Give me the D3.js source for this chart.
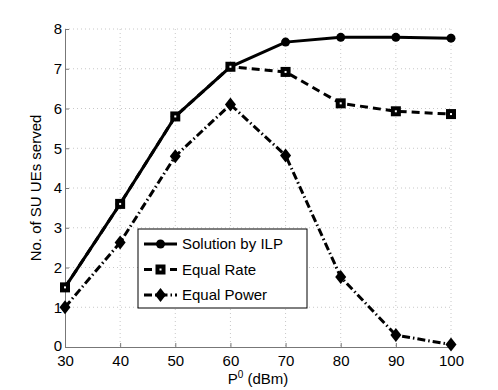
<!DOCTYPE html>
<html>
<head>
<meta charset="utf-8">
<script src="https://cdnjs.cloudflare.com/ajax/libs/d3/7.8.5/d3.min.js"></script>
<style>
  body { margin: 0; background: #fff; }
  text { font-family: "Liberation Sans", Arial, sans-serif; }
  .grid line { stroke: #c8c8c8; stroke-dasharray: 1,3; }
</style>
</head>
<body>
<div id="vis"></div>
<script>
// data
var powers = [30, 40, 50, 60, 70, 80, 90, 100];
var ilp = [1.5, 3.6, 5.8, 7.05, 7.67, 7.79, 7.79, 7.77];
var equalRate = [1.5, 3.6, 5.8, 7.05, 6.92, 6.13, 5.93, 5.86];
var equalPower = [1.0, 2.63, 4.8, 6.1, 4.82, 1.76, 0.3, 0.06];
var xTicks = [30, 40, 50, 60, 70, 80, 90, 100];
var yTicks = [0, 1, 2, 3, 4, 5, 6, 7, 8];
var seriesNames = ['Solution by ILP', 'Equal Rate', 'Equal Power'];

var width = 498, height = 390;
var margin = { top: 29, right: 47, bottom: 43, left: 65 };

var svg = d3.select('#vis').append('svg')
    .attr('width', width)
    .attr('height', height);

var w = width - margin.left - margin.right;
var h = height - margin.top - margin.bottom;

var g = svg.append('g')
    .attr('transform', 'translate(' + margin.left + ',' + margin.top + ')');

var x = d3.scaleLinear().domain([30, 100]).range([0, w]);
var y = d3.scaleLinear().domain([0, 8]).range([h, 0]);

// grid
var grid = g.append('g').attr('class', 'grid');
grid.selectAll('.gx').data(xTicks.slice(1)).enter().append('line')
    .attr('x1', function(d) { return x(d); }).attr('x2', function(d) { return x(d); })
    .attr('y1', 0).attr('y2', h);
grid.selectAll('.gy').data(yTicks.slice(1)).enter().append('line')
    .attr('x1', 0).attr('x2', w)
    .attr('y1', function(d) { return y(d); }).attr('y2', function(d) { return y(d); });

// axes
var xAxis = d3.axisBottom(x).tickValues(xTicks).tickSize(-4).tickPadding(6);
var yAxis = d3.axisLeft(y).tickValues(yTicks).tickSize(-4).tickPadding(3);

var gx = g.append('g').attr('transform', 'translate(0,' + h + ')').call(xAxis);
var gy = g.append('g').call(yAxis);
[gx, gy].forEach(function(a) {
  a.select('.domain').attr('stroke', '#777').attr('stroke-width', 1);
  a.selectAll('.tick line').attr('stroke', '#777');
  a.selectAll('.tick text').attr('font-size', 15).attr('fill', '#000')
    .style('font-family', '"Liberation Sans", Arial, sans-serif');
});
gx.selectAll('.tick text').attr('dy', '0.85em');
gy.selectAll('.tick text').filter(function(d) { return d === 0; }).attr('dy', '0.2em');

// labels
svg.append('text')
    .attr('transform', 'translate(41,' + (margin.top + h / 2) + ') rotate(-90)')
    .attr('text-anchor', 'middle')
    .attr('font-size', 15)
    .text('No. of SU UEs served');

var xl = svg.append('text')
    .attr('x', margin.left + w / 2)
    .attr('y', 384)
    .attr('text-anchor', 'middle')
    .attr('font-size', 15);
xl.append('tspan').text('P');
xl.append('tspan').attr('dy', -6).attr('font-size', 10).text('0');
xl.append('tspan').attr('dy', 6).text(' (dBm)');

var line = d3.line()
    .x(function(d, i) { return x(powers[i]); })
    .y(function(d) { return y(d); });

function drawMarker(sel, type, cx, cy) {
  if (type === 'circle') {
    sel.append('circle').attr('cx', cx).attr('cy', cy).attr('r', 4.5).attr('fill', '#000');
  } else if (type === 'square') {
    sel.append('rect').attr('x', cx - 5).attr('y', cy - 5).attr('width', 10).attr('height', 10)
      .attr('fill', '#000');
    sel.append('rect').attr('x', cx - 1).attr('y', cy - 1).attr('width', 2).attr('height', 2)
      .attr('fill', '#fff');
  } else {
    sel.append('path')
      .attr('d', 'M' + cx + ',' + (cy - 7) + 'L' + (cx + 5.5) + ',' + cy + 'L' + cx + ',' + (cy + 7) + 'L' + (cx - 5.5) + ',' + cy + 'Z')
      .attr('fill', '#000');
  }
}

var series = [
  { values: ilp, dash: null, marker: 'circle' },
  { values: equalRate, dash: '8,5', marker: 'square' },
  { values: equalPower, dash: '8,3,1.5,3', marker: 'diamond' }
];

series.forEach(function(s) {
  g.append('path')
    .datum(s.values)
    .attr('fill', 'none')
    .attr('stroke', '#000')
    .attr('stroke-width', 3)
    .attr('stroke-dasharray', s.dash)
    .attr('d', line);
  var mg = g.append('g');
  s.values.forEach(function(v, i) { drawMarker(mg, s.marker, x(powers[i]), y(v)); });
});

// legend
var lg = svg.append('g').attr('transform', 'translate(138,229)');
lg.append('rect').attr('width', 169).attr('height', 79)
  .attr('fill', '#fff').attr('stroke', '#000').attr('stroke-width', 1);
series.forEach(function(s, i) {
  var ly = 15 + i * 25.5;
  lg.append('line').attr('x1', 6).attr('x2', 39).attr('y1', ly).attr('y2', ly)
    .attr('stroke', '#000').attr('stroke-width', 3).attr('stroke-dasharray', s.dash);
  drawMarker(lg, s.marker, 22.5, ly);
  lg.append('text').attr('x', 44).attr('y', ly).attr('dy', '0.35em')
    .attr('font-size', 15).text(seriesNames[i]);
});
</script>
</body>
</html>
